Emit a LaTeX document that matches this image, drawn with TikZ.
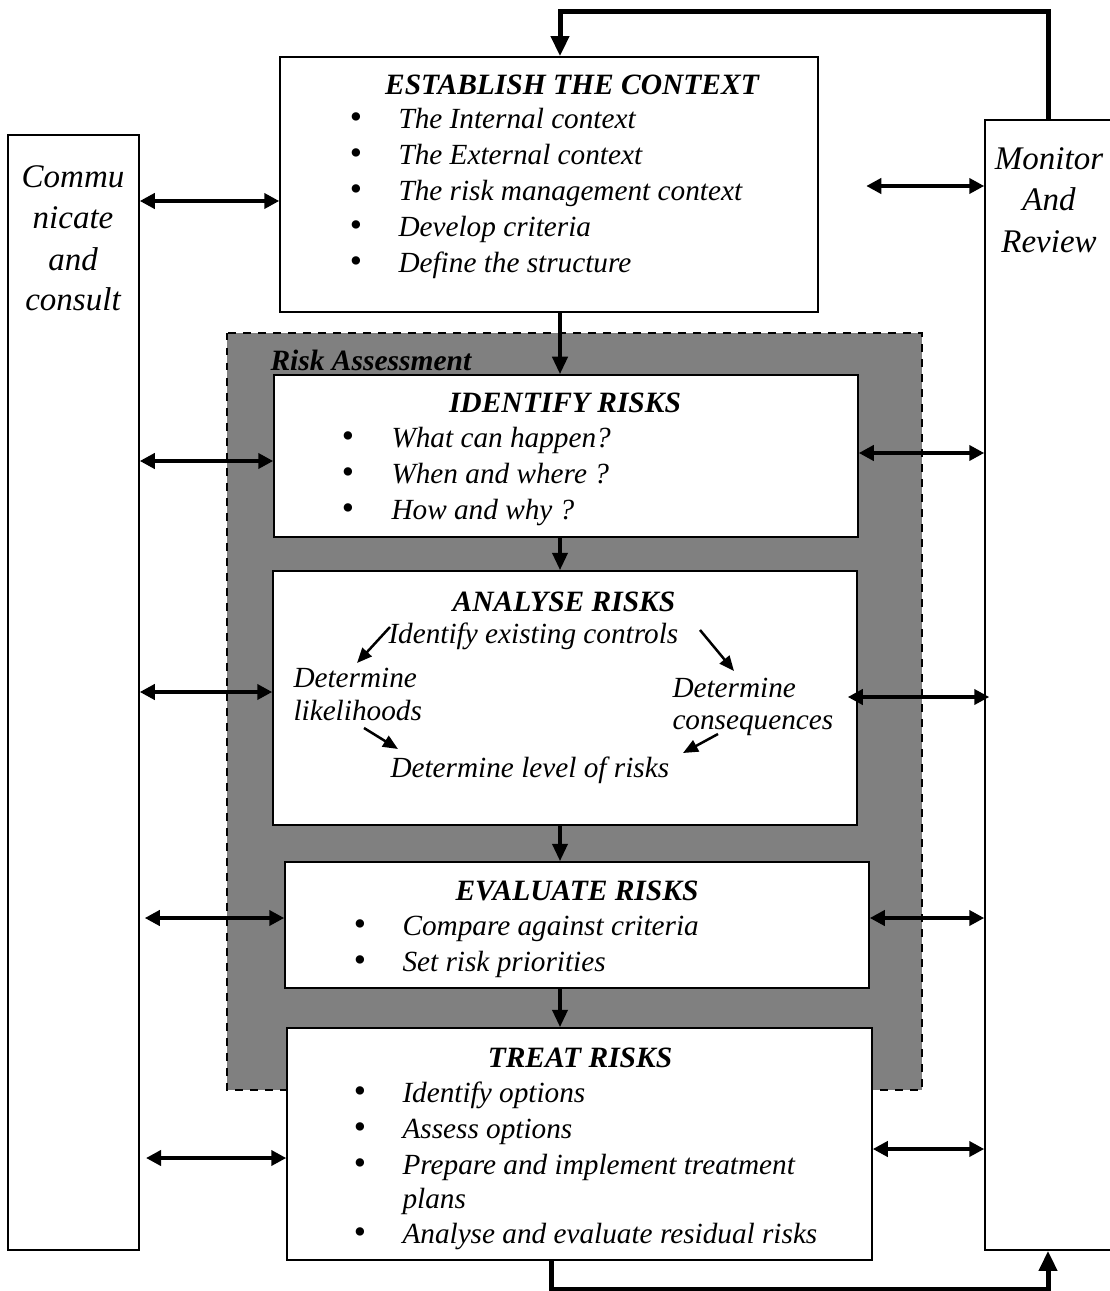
\documentclass[tikz,border=0pt]{standalone}
\usepackage{fontspec}
\setmainfont{Liberation Serif}
\usetikzlibrary{arrows.meta,fit}
\begin{document}
\begin{tikzpicture}[x=0.4pt,y=-0.4pt,
  box/.style={draw=black, line width=0.6pt, fill=white, inner sep=0pt},
  txt/.style={font=\fontsize{11.7}{14}\selectfont\itshape, inner sep=0pt, anchor=base west},
  ctr/.style={font=\fontsize{13.2}{16}\selectfont\itshape, inner sep=0pt, anchor=base},
  ttl/.style={font=\fontsize{11.8}{14}\selectfont\bfseries\itshape, inner sep=0pt, anchor=base},
  bul/.style={font=\fontsize{14}{16}\selectfont, inner sep=0pt, anchor=base},
  dbl/.style={line width=1.6pt, {Triangle[length=6pt,width=6pt]}-{Triangle[length=6pt,width=6pt]}},
  flow/.style={line width=1.6pt, -{Triangle[length=7pt,width=6pt]}},
  fb/.style={line width=2pt, -{Triangle[length=8pt,width=7pt]}},
  sm/.style={line width=1pt, -{Triangle[length=6pt,width=5pt]}},
]
\useasboundingbox (0,0) rectangle (1110,1291);

% risk assessment zone
\draw[dashed, line width=0.6pt, fill={rgb,255:red,128;green,128;blue,128}] (227,333) rectangle (922,1090);
\node[txt, font=\fontsize{11.8}{14}\selectfont\bfseries\itshape] (ralabel) at (270,370) {Risk Assessment};

% side columns
\node[box, fit={(8,135) (139,1250)}] (comm) {};
\node[box, fit={(985,120) (1116,1250)}] (mon) {};

% process boxes
\node[box, fit={(280,57) (818,312)}] (est) {};
\node[box, fit={(274,375) (858,537)}] (ident) {};
\node[box, fit={(273,571) (857,825)}] (anal) {};
\node[box, fit={(285,862) (869,988)}] (eval) {};
\node[box, fit={(287,1028) (872,1260)}] (treat) {};

\coordinate (cx) at (560,0);

% side texts
\node[ctr] (c1) at (73,188) {Commu};
\node[ctr] (c2) at (73,229) {nicate};
\node[ctr] (c3) at (73,271) {and};
\node[ctr] (c4) at (73,311) {consult};
\node[ctr] (m1) at (1049,170) {Monitor};
\node[ctr] (m2) at (1049,211) {And};
\node[ctr] (m3) at (1049,253) {Review};

% establish the context
\node[ttl] (estT) at (572,95) {ESTABLISH THE CONTEXT};
\foreach \yy/\tt [count=\i] in {129/The Internal context,165/The External context,201/The risk management context,237/Develop criteria,273/Define the structure}{
  \node[bul] (eb\i) at (356,\yy) {•};
  \node[txt] (et\i) at (398,\yy) {\tt};
}

% identify risks
\node[ttl] (idT) at (565,413) {IDENTIFY RISKS};
\foreach \yy/\tt [count=\i] in {447/What can happen?,483/When and where ?,519/How and why ?}{
  \node[bul] (ib\i) at (348,\yy) {•};
  \node[txt] (it\i) at (391,\yy) {\tt};
}

% analyse risks
\node[ttl] (anT) at (564,611) {ANALYSE RISKS};
\node[txt] (ctrl) at (388,643) {Identify existing controls};
\node[txt] (lk1) at (293,687) {Determine};
\node[txt] (lk2) at (293,720) {likelihoods};
\node[txt] (cq1) at (672,697) {Determine};
\node[txt] (cq2) at (672,729) {consequences};
\node[txt] (lvl) at (390,777) {Determine level of risks};
\coordinate (a1s) at (390,627); \coordinate (a1e) at (357,663);
\coordinate (a2s) at (700,630); \coordinate (a2e) at (734,671);
\coordinate (a3s) at (364,728); \coordinate (a3e) at (398,749);
\coordinate (a4s) at (718,734); \coordinate (a4e) at (683,753);
\draw[sm] (a1s) -- (a1e);
\draw[sm] (a2s) -- (a2e);
\draw[sm] (a3s) -- (a3e);
\draw[sm] (a4s) -- (a4e);

% evaluate risks
\node[ttl] (evT) at (577,900) {EVALUATE RISKS};
\foreach \yy/\tt [count=\i] in {935/Compare against criteria,971/Set risk priorities}{
  \node[bul] (vb\i) at (360,\yy) {•};
  \node[txt] (vt\i) at (402,\yy) {\tt};
}

% treat risks
\node[ttl] (trT) at (580,1067) {TREAT RISKS};
\foreach \yy/\tt [count=\i] in {1102/Identify options,1138/Assess options,1174/Prepare and implement treatment,1243/Analyse and evaluate residual risks}{
  \node[bul] (tb\i) at (360,\yy) {•};
  \node[txt] (tt\i) at (402,\yy) {\tt};
}
\node[txt] (tplans) at (402,1208) {plans};

% main flow
\draw[flow] (est.south -| cx) -- (ident.north -| cx);
\draw[flow] (ident.south -| cx) -- (anal.north -| cx);
\draw[flow] (anal.south -| cx) -- (eval.north -| cx);
\draw[flow] (eval.south -| cx) -- (treat.north -| cx);

% communicate links
\coordinate (l1) at (0,201); \coordinate (l2) at (0,461); \coordinate (l3) at (0,692);
\coordinate (l4) at (0,918); \coordinate (l5) at (0,1158);
\draw[dbl] (comm.east |- l1) -- (est.west |- l1);
\draw[dbl] (comm.east |- l2) -- (ident.west |- l2);
\draw[dbl] (comm.east |- l3) -- (anal.west |- l3);
\draw[dbl] ([xshift=2pt]comm.east |- l4) -- (eval.west |- l4);
\draw[dbl] ([xshift=2.5pt]comm.east |- l5) -- (treat.west |- l5);

% monitor links
\coordinate (r1) at (0,186); \coordinate (r2) at (0,453); \coordinate (r3) at (0,697);
\coordinate (r4) at (0,918); \coordinate (r5) at (0,1149);
\draw[dbl] ([xshift=19pt]est.east |- r1) -- (mon.west |- r1);
\draw[dbl] (ident.east |- r2) -- (mon.west |- r2);
\draw[dbl] ([xshift=-4pt]anal.east |- r3) -- ([xshift=2pt]mon.west |- r3);
\draw[dbl] (eval.east |- r4) -- (mon.west |- r4);
\draw[dbl] (treat.east |- r5) -- (mon.west |- r5);

% feedback loops
\coordinate (mx) at (1048,0);
\coordinate (topy) at (0,12);
\coordinate (boty) at (0,1289);
\coordinate (bx) at (551,0);
\draw[fb] (mon.north -| mx) -- (mx |- topy) -- (cx |- topy) -- (est.north -| cx);
\draw[fb] (treat.south -| bx) -- (bx |- boty) -- (mx |- boty) -- (mon.south -| mx);
\end{tikzpicture}
\end{document}
